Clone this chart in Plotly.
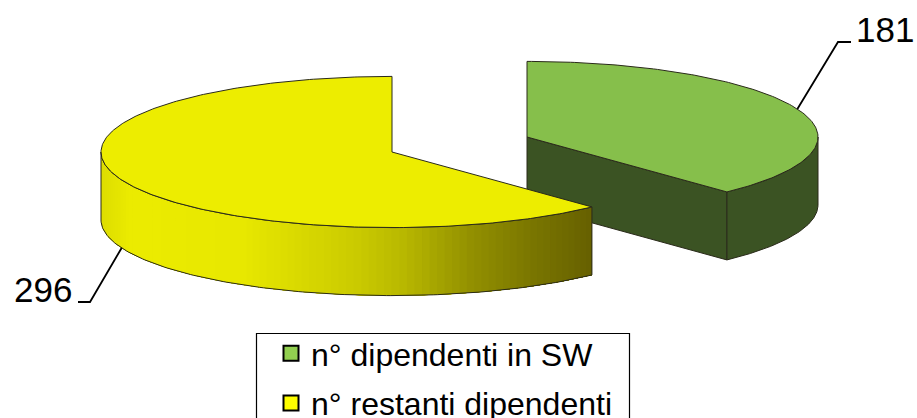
import numpy as np
import plotly.graph_objects as go

categories = ["n° dipendenti in SW", "n° restanti dipendenti"]
values = [181, 296]
top_colors = ["#86BF4B", "#EDED00"]
side_color = "#3B5323"
legend_colors = ["#92D050", "#FFFF00"]

W, H = 917, 418
RX, RY, DEPTH = 291, 75.6, 68
CENTERS = [(527, 137), (392, 152)]
EDGE = "#2a2a1a"
GRAD_POS = [102, 130, 240, 300, 350, 400, 470, 530, 591]
GRAD_RGB = [(222, 222, 0), (236, 236, 0), (232, 232, 0), (216, 216, 0), (204, 204, 0),
            (184, 184, 0), (146, 143, 0), (122, 118, 0), (102, 96, 0)]

total = sum(values)
sweep = [360 * v / total for v in values]
split = sweep[0]


def arc(c, a0, a1, dz=0, n=160):
    t = np.radians(np.linspace(a0, a1, n))
    return c[0] + RX * np.sin(t), c[1] - RY * np.cos(t) + dz


def poly(fig, x, y, fill, line=None, lw=1):
    fig.add_trace(go.Scatter(
        x=list(x), y=list(y), mode="lines", fill="toself", fillcolor=fill,
        line=dict(color=line or fill, width=lw if line else 0),
        showlegend=False, hoverinfo="skip"))


def rim(c, a0, a1):
    x0, y0 = arc(c, a0, a1)
    x1, y1 = arc(c, a1, a0, DEPTH)
    return np.r_[x0, x1, x0[0]], np.r_[y0, y1, y0[0]]


fig = go.Figure()

# green slice: cut face, rim, top
c = CENTERS[0]
tx, ty = arc(c, split, split, n=1)
poly(fig, [c[0], tx[0], tx[0], c[0], c[0]],
     [c[1], ty[0], ty[0] + DEPTH, c[1] + DEPTH, c[1]], side_color, EDGE)
rx, ry = rim(c, 90, split)
poly(fig, rx, ry, side_color, EDGE)
ax, ay = arc(c, 0, split)
poly(fig, np.r_[c[0], ax, c[0]], np.r_[c[1], ay, c[1]], top_colors[0], EDGE)

# yellow slice: shaded rim, top
c = CENTERS[1]
steps = np.linspace(270, split, 90)
for a in steps[:-1]:
    xa = c[0] + RX * np.sin(np.radians(a))
    col = [int(np.interp(xa, GRAD_POS, [g[i] for g in GRAD_RGB])) for i in range(3)]
    rx, ry = rim(c, a, split)
    poly(fig, rx, ry, f"rgb({col[0]},{col[1]},{col[2]})")
rx, ry = rim(c, 270, split)
fig.add_trace(go.Scatter(x=list(rx), y=list(ry), mode="lines",
                         line=dict(color=EDGE, width=1), showlegend=False, hoverinfo="skip"))
ax, ay = arc(c, split, 360, n=300)
poly(fig, np.r_[c[0], ax, c[0]], np.r_[c[1], ay, c[1]], top_colors[1], EDGE)

# leader lines from each slice's mid angle
mid0 = split / 2
mx, my = arc(CENTERS[0], mid0, mid0, n=1)
fig.add_trace(go.Scatter(x=[mx[0], 838, 851], y=[my[0], 42, 42], mode="lines",
                         line=dict(color="#000", width=1.8), showlegend=False, hoverinfo="skip"))
mid1 = split + sweep[1] / 2
mx, my = arc(CENTERS[1], mid1, mid1, DEPTH, n=1)
fig.add_trace(go.Scatter(x=[mx[0], 90, 78], y=[my[0], 302, 302], mode="lines",
                         line=dict(color="#000", width=1.8), showlegend=False, hoverinfo="skip"))

# legend entries
for name, col in zip(categories, legend_colors):
    fig.add_trace(go.Scatter(
        x=[None], y=[None], mode="markers", name=name, legendgroup=name,
        marker=dict(symbol="square", size=15, color=col, line=dict(color="#000", width=2))))

fig.add_annotation(x=885, y=29, text=str(values[0]), showarrow=False,
                   font=dict(family="Liberation Sans", size=35, color="#000"))
fig.add_annotation(x=42.5, y=289, text=str(values[1]), showarrow=False,
                   font=dict(family="Liberation Sans", size=35, color="#000"))

fig.add_shape(type="path", path="M 256.5 430 L 256.5 333.5 L 629.5 333.5 L 629.5 430",
              line=dict(color="#000", width=1.2))

fig.update_layout(
    width=W, height=H, margin=dict(l=0, r=0, t=0, b=0, autoexpand=False),
    paper_bgcolor="#fff", plot_bgcolor="#fff",
    xaxis=dict(range=[0, W], visible=False, fixedrange=True),
    yaxis=dict(range=[H, 0], visible=False, fixedrange=True),
    legend=dict(x=271 / W, y=1 - 326 / H, xanchor="left", yanchor="top",
                bgcolor="rgba(0,0,0,0)", borderwidth=0, tracegroupgap=5,
                font=dict(family="Liberation Sans", size=32, color="#000")),
)
fig.write_html("out.html", config={"displayModeBar": False},
               post_script="document.body.style.margin='0';document.body.style.overflow='hidden';")
